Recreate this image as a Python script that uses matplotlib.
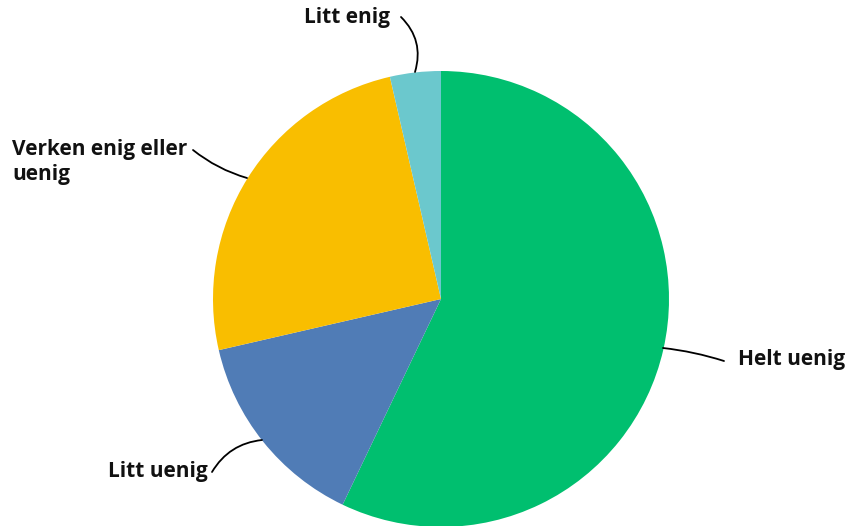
import matplotlib.pyplot as plt
import numpy as np

# data
labels = ['Helt uenig', 'Litt uenig', 'Verken enig eller\nuenig', 'Litt enig']
values = [57.1, 14.3, 25.0, 3.6]
colors = ['#00BF6F', '#507CB6', '#F9BE00', '#6BC8CD']

W, H = 846, 526
cx, cy, r = 441, 299, 228

plt.rcParams['font.family'] = ['Open Sans', 'DejaVu Sans']

fig = plt.figure(figsize=(W / 100, H / 100), dpi=100)
ax = fig.add_axes([(cx - r) / W, (H - cy - r) / H, 2 * r / W, 2 * r / H])
wedges, _ = ax.pie(values, colors=colors, startangle=90, counterclock=False,
                   radius=1, wedgeprops=dict(linewidth=0))
ax.set_xlim(-1, 1)
ax.set_ylim(-1, 1)
ax.set_aspect('equal')
ax.axis('off')


def px(x, y):
    return ((x - cx) / r, (cy - y) / r)


# (edge point, line end, text anchor, ha, rad)
leaders = [
    ((663, 348), (724, 361), (738, 359), 'left', 0.05),
    ((262, 440), (212, 472), (208, 471), 'right', -0.25),
    ((247, 178), (193, 150), (12, 162), 'left', 0.1),
    ((415, 72), (401, 17), (390, 18), 'right', -0.3),
]

for lab, (edge, end, txt, ha, rad) in zip(labels, leaders):
    ax.annotate('', xy=px(*edge), xytext=px(*end),
                arrowprops=dict(arrowstyle='-', color='black', lw=1.3,
                                shrinkA=0, shrinkB=0,
                                connectionstyle=f'arc3,rad={rad}'),
                annotation_clip=False)
    ax.text(*px(*txt), lab, ha=ha, va='center', fontsize=15,
            fontweight='bold', color='#111111', linespacing=1.25)

fig.savefig('out.png', dpi=100)
